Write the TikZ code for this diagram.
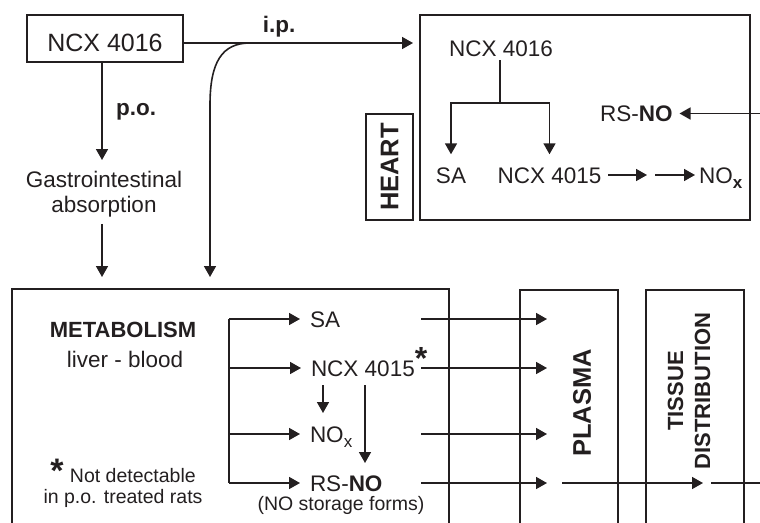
\documentclass[tikz,border=0pt]{standalone}
\usepackage{fontspec}
\setmainfont{Liberation Sans}
\usetikzlibrary{arrows.meta}
\definecolor{ink}{HTML}{231F20}
\newcommand\mysubx[1]{\raisebox{-5pt}{\fontsize{17}{17}\selectfont #1}}
\begin{document}
\begin{tikzpicture}[x=1pt,y=-1pt,
  every node/.style={text=ink,inner sep=0pt,outer sep=0pt},
  ln/.style={draw=ink,line width=1.6pt},
  arr/.style={ln,-{Triangle[length=11pt,width=12pt]}},
  framebox/.style={ln},
  fa/.style={font=\fontsize{22.5}{25}\selectfont},
  fbig/.style={font=\fontsize{25}{28}\selectfont},
  fb/.style={font=\fontsize{22.5}{25}\selectfont\bfseries},
  fbb/.style={font=\fontsize{25.5}{28}\selectfont\bfseries},
  fsm/.style={font=\fontsize{19.5}{21}\selectfont},
]
\useasboundingbox (0,0) rectangle (760,522);

% ---------- top: dosing ----------
\node[framebox,fbig,minimum width=156pt,minimum height=47pt,text height=25pt,text depth=0pt] (ncx) at (105,38.5) {NCX 4016};
\node[framebox,minimum width=330pt,minimum height=205pt] (heart) at (585,117.5) {};
\coordinate (ipj) at (250,43);
\coordinate (m1) at (102,277);
\coordinate (m2) at (210,277);
\draw[arr,shorten >=7pt] (ncx.east |- ipj) -- (heart.west |- ipj);
\node[fb,anchor=base] (ip) at (279,32) {i.p.};
\node[fb,anchor=base] (po) at (136,115) {p.o.};
\node[fa,align=center,anchor=north] (gi) at (104,171) {Gastrointestinal\\absorption};
\draw[arr,shorten >=11pt] (ncx.south -| m1) -- (gi.north -| m1);
\draw[arr,shorten <=7pt] (gi.south -| m1) -- (m1);
\draw[arr] (ipj) .. controls (222,43) and (210,62) .. (210,105) -- (m2);

% ---------- heart ----------
\node[framebox,rotate=90,minimum width=106pt,minimum height=47pt,fbb] (hl) at (389.5,167) {HEART};
\node[fa,anchor=base] (hn16) at (501,56) {NCX 4016};
\node[fa,anchor=base] (hsa) at (451,183) {SA};
\node[fa,anchor=base] (hn15) at (549.5,183) {NCX 4015};
\node[fa,anchor=base west] (hnox) at (699,183) {NO\mysubx{\bfseries x}};
\node[fa,anchor=base west] (hrs) at (600,121.5) {RS-\textbf{NO}};
\coordinate (hj) at (500,103);
\draw[ln,shorten <=4pt] (hn16.south -| hj) -- (hj);
\draw[arr,shorten >=13pt] (hj) -| (hsa.north);
\draw[arr,shorten >=13pt] (hj) -| (hn15.north);
\path ([yshift=8pt]hn15.base east) coordinate (hl15);
\coordinate (hmx) at (651,0);
\draw[arr,shorten <=7pt,shorten >=4pt] (hl15) -- (hl15 -| hmx);
\draw[arr,shorten <=4pt,shorten >=4pt] (hl15 -| hmx) -- (hl15 -| hnox.west);
\path ([yshift=8pt]hrs.base east) coordinate (hrl);
\coordinate (rin) at (760,0);
\draw[arr,shorten >=7pt] (hrl -| rin) -- (hrl);

% ---------- lower compartments ----------
\draw[ln] (12,530) |- (449,289) -- (449,530);
\draw[ln] (520,530) |- (618,290) -- (618,530);
\draw[ln] (646,530) |- (744,290) -- (744,530);

\node[font=\fontsize{22}{24}\selectfont\bfseries,anchor=base] (met) at (123,337) {METABOLISM};
\node[fa,anchor=base] (lb) at (125,367) {liver - blood};

\node[fa,anchor=base west] (msa) at (310,327) {SA};
\node[fa,anchor=base west] (mn15) at (311,376) {NCX 4015\raisebox{7pt}{\fontsize{32}{32}\selectfont\bfseries *}};
\node[fa,anchor=base west] (mnox) at (310,442) {NO\mysubx{x}};
\node[fa,anchor=base west] (mrs) at (310,491) {RS-\textbf{NO}};
\node[fsm,anchor=base] (mst) at (341,510) {(NO storage forms)};

\path ([yshift=8pt]msa.base west) coordinate (lsa)
      ([yshift=8pt]mn15.base west) coordinate (l15)
      ([yshift=8pt]mnox.base west) coordinate (lno)
      ([yshift=8pt]mrs.base west) coordinate (lrs);
\coordinate (bx) at (229,0);
\draw[ln] (lsa -| bx) -- (lrs -| bx);
\foreach \c in {lsa,l15,lno,lrs} \draw[arr,shorten >=10pt] (\c -| bx) -- (\c);

\coordinate (d1) at (323,385);
\coordinate (d1e) at (323,413);
\coordinate (d2) at (365,385);
\coordinate (d2e) at (365,463);
\draw[arr] (d1) -- (d1e);
\draw[arr] (d2) -- (d2e);

\coordinate (px1) at (421,0);
\coordinate (px2) at (547,0);
\foreach \c in {lsa,l15,lno,lrs} \draw[arr] (\c -| px1) -- (\c -| px2);
\coordinate (qx1) at (562,0);
\coordinate (qx2) at (703,0);
\coordinate (rx1) at (711,0);
\coordinate (rx2) at (760,0);
\draw[arr] (lrs -| qx1) -- (lrs -| qx2);
\draw[ln] (lrs -| rx1) -- (lrs -| rx2);

\node[rotate=90,fbb] (pl) at (582,403) {PLASMA};
\node[rotate=90,align=center,font=\fontsize{22}{27}\selectfont\bfseries] (td) at (689,391) {TISSUE\\DISTRIBUTION};

\node[fsm,align=center] (fn) at (123,483) {{\fontsize{34}{30}\selectfont\bfseries *}\,\,Not detectable\\in p.o. treated rats};
\end{tikzpicture}
\end{document}
